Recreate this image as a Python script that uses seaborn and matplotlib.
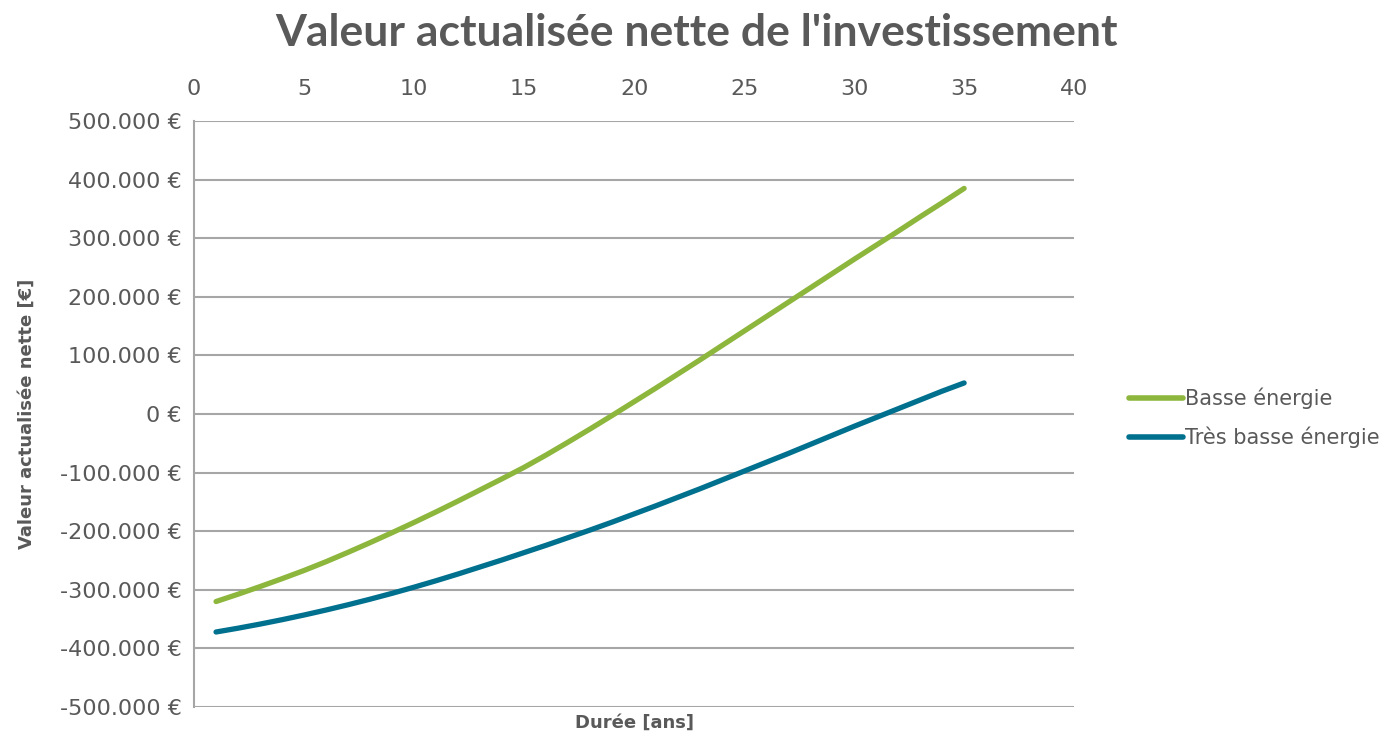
import pandas as pd
import matplotlib.pyplot as plt
import seaborn as sns

# ------ DATA (in thousands of euros) ------
years = list(range(1, 36))

basse = [-320, -307.5, -294.5, -281, -267, -252, -236, -219.5, -202.5, -185,
         -167, -148.5, -129.5, -110.5, -91, -70, -48, -25.5, -2.5, 21,
         44.5, 68.5, 92.5, 117, 141.5, 166, 190.5, 215, 239.5, 264,
         288, 312, 336.5, 360.5, 385]

tres_basse = [-372, -365.5, -358.5, -351, -343, -334.5, -325.5, -316, -306, -295.5,
              -284.5, -273, -261, -249, -236.5, -224, -211, -198, -184.5, -170.5,
              -156.5, -142, -127.5, -112.5, -97.5, -82.5, -67.5, -52, -36.5, -21,
              -6, 9, 24, 39, 53]

series_names = ["Basse énergie", "Très basse énergie"]
x_ticks = [0, 5, 10, 15, 20, 25, 30, 35, 40]
y_ticks = [-500000, -400000, -300000, -200000, -100000, 0,
           100000, 200000, 300000, 400000, 500000]

# long-form table for seaborn
data = pd.DataFrame({
    "Durée": years * 2,
    "VAN": [v * 1000 for v in basse + tres_basse],
    "Série": [series_names[0]] * len(years) + [series_names[1]] * len(years),
})

# ------ CHART ------
sns.set_style("white")
plt.rcParams["font.family"] = ["DejaVu Sans"]

text_col = "#595959"
grid_col = "#a6a6a6"
palette = {series_names[0]: "#8db63c", series_names[1]: "#00708f"}

fig = plt.figure(figsize=(13.93, 7.38), dpi=100)
ax = fig.add_axes([0.1393, 0.042, 0.6318, 0.794])

sns.lineplot(data=data, x="Durée", y="VAN", hue="Série", palette=palette,
             linewidth=3.8, ax=ax, solid_capstyle="round")

ax.set_xlim(0, 40)
ax.set_ylim(-500000, 500000)
ax.set_xticks(x_ticks)
ax.set_yticks(y_ticks)
ax.set_yticklabels([f"{v:,.0f} €".replace(",", ".") for v in y_ticks])

ax.xaxis.tick_top()
ax.tick_params(axis="both", length=0, labelsize=16, colors=text_col, pad=9)
ax.tick_params(axis="x", pad=16)

ax.yaxis.grid(True, color=grid_col, linewidth=1.5)
ax.xaxis.grid(False)
for side in ["top", "right", "bottom"]:
    ax.spines[side].set_visible(False)
ax.spines["left"].set_color(grid_col)
ax.spines["left"].set_linewidth(1.5)

ax.set_xlabel("Durée [ans]", fontsize=13, fontweight="bold", color=text_col)
ax.xaxis.set_label_position("bottom")
ax.xaxis.labelpad = 5
ax.set_ylabel("Valeur actualisée nette [€]", fontsize=13, fontweight="bold",
              color=text_col, labelpad=17)

fig.suptitle("Valeur actualisée nette de l'investissement", fontsize=32,
             fontweight="bold", color=text_col, y=0.982, family="Lato")

leg = ax.legend(loc="center left", bbox_to_anchor=(0.803, 0.434),
                bbox_transform=fig.transFigure, frameon=False, fontsize=15,
                handlelength=2.6, handletextpad=0.1, labelspacing=0.85,
                borderpad=0)
for txt in leg.get_texts():
    txt.set_color(text_col)
for line in leg.get_lines():
    line.set_linewidth(4)

fig.savefig("out.png", dpi=100)
